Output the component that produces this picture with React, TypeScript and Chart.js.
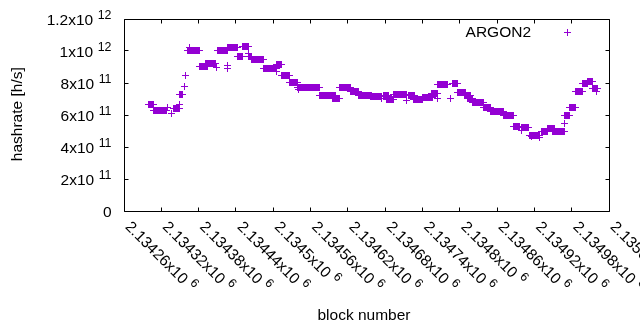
import { useEffect, useRef } from 'react';
import { Chart, registerables } from 'chart.js';

Chart.register(...registerables);

// Runs of blocks sharing the same hashrate estimate (values in 1e9 h/s)
const runFirstBlock = [
  2134298, 2134306, 2134329, 2134336, 2134338, 2134349, 2134348, 2134356, 2134358, 2134362,
  2134365, 2134380, 2134391, 2134408, 2134409, 2134426, 2134426, 2134426, 2134441, 2134449,
  2134459, 2134460, 2134465, 2134483, 2134504, 2134505, 2134512, 2134525, 2134540, 2134539,
  2134574, 2134595, 2134605, 2134623, 2134637, 2134656, 2134674, 2134676, 2134682, 2134693,
  2134713, 2134716, 2134724, 2134740, 2134753, 2134763, 2134763, 2134784, 2134787, 2134796,
  2134806, 2134812, 2134820, 2134837, 2134848, 2134869, 2134886, 2134898, 2134899, 2134912,
  2134914, 2134928, 2134930, 2134941, 2134949, 2134967, 2134968, 2134975, 2134986, 2134997,
  2135004, 2135012, 2135019,
];
const runLastBlock = [
  2134307, 2134328, 2134329, 2134336, 2134348, 2134349, 2134354, 2134356, 2134358, 2134380,
  2134365, 2134393, 2134407, 2134408, 2134425, 2134426, 2134426, 2134441, 2134449, 2134459,
  2134459, 2134465, 2134483, 2134504, 2134512, 2134505, 2134525, 2134539, 2134540, 2134574,
  2134599, 2134605, 2134624, 2134637, 2134658, 2134673, 2134674, 2134684, 2134692, 2134714,
  2134713, 2134726, 2134740, 2134755, 2134763, 2134763, 2134779, 2134784, 2134796, 2134808,
  2134817, 2134820, 2134837, 2134849, 2134869, 2134886, 2134896, 2134898, 2134909, 2134928,
  2134914, 2134928, 2134941, 2134951, 2134968, 2134967, 2134976, 2134986, 2134997, 2135005,
  2135013, 2135020, 2135019,
];
const runHashrateGH = [
  669, 631, 650, 612, 644, 669, 734, 781, 848, 1009,
  1025, 906, 928, 900, 1009, 912, 892, 1022, 966, 1031,
  986, 969, 947, 894, 916, 872, 853, 806, 762, 772,
  725, 709, 772, 753, 728, 719, 709, 727, 703, 734,
  694, 725, 703, 712, 737, 706, 791, 709, 797, 741,
  725, 706, 684, 653, 628, 597, 534, 506, 522, 478,
  469, 462, 500, 519, 500, 547, 597, 653, 753, 797,
  812, 766, 753,
];

const xMin = 2134260;
const xMax = 2135040;
const xTickBlocks = [
  2134260, 2134320, 2134380, 2134440, 2134500, 2134560, 2134620,
  2134680, 2134740, 2134800, 2134860, 2134920, 2134980, 2135040,
];
const xTickText = [
  '2.13426x10', '2.13432x10', '2.13438x10', '2.13444x10', '2.1345x10', '2.13456x10', '2.13462x10',
  '2.13468x10', '2.13474x10', '2.1348x10', '2.13486x10', '2.13492x10', '2.13498x10', '2.13504x10',
];
const xTickExp = '6';
const yTickValues = [0, 2e11, 4e11, 6e11, 8e11, 1e12, 1.2e12];
const yTickText = ['0', '2x10', '4x10', '6x10', '8x10', '1x10', '1.2x10'];
const yTickExp = ['', '11', '11', '11', '11', '12', '12'];

const seriesLabel = 'ARGON2';
const xTitle = 'block number';
const yTitle = 'hashrate [h/s]';

const COLOR = '#9400d3';
const FAMILY = '"Liberation Sans", Arial, sans-serif';
const FS = 15.5;
const SUP = 12.4;
const SUP_RAISE = 6.5;
const SUP_GAP = 4.5;
const TICK = 4;

function crisp(v: number) {
  return Math.floor(v) + 0.5;
}

function makeCross(): HTMLCanvasElement {
  const c = document.createElement('canvas');
  c.width = 7;
  c.height = 7;
  const g = c.getContext('2d')!;
  g.fillStyle = COLOR;
  g.fillRect(3, 0, 1, 7);
  g.fillRect(0, 3, 7, 1);
  return c;
}

const gnuplotDecor = {
  id: 'gnuplotDecor',
  beforeDatasetsDraw(chart: any) {
    const { ctx, chartArea: a, scales } = chart;
    const L = crisp(a.left), R = crisp(a.right - 0.5), T = crisp(a.top), B = crisp(a.bottom - 0.5);
    ctx.save();
    ctx.strokeStyle = '#000';
    ctx.lineWidth = 1;
    ctx.beginPath();
    ctx.rect(L, T, R - L, B - T);
    for (const b of xTickBlocks) {
      const x = crisp(scales.x.getPixelForValue(b) - 0.5);
      ctx.moveTo(x, B); ctx.lineTo(x, B - TICK);
      ctx.moveTo(x, T); ctx.lineTo(x, T + TICK);
    }
    for (const v of yTickValues) {
      const y = crisp(scales.y.getPixelForValue(v) - 0.5);
      ctx.moveTo(L, y); ctx.lineTo(L + TICK, y);
      ctx.moveTo(R, y); ctx.lineTo(R - TICK, y);
    }
    ctx.stroke();
    ctx.restore();
    ctx.imageSmoothingEnabled = false;
  },
  afterDatasetsDraw(chart: any) {
    chart.ctx.imageSmoothingEnabled = true;
  },
  afterDraw(chart: any) {
    const { ctx, scales } = chart;
    ctx.save();
    ctx.fillStyle = '#000';
    ctx.textBaseline = 'alphabetic';
    // y tick labels (right aligned)
    yTickValues.forEach((v, i) => {
      const y = scales.y.getPixelForValue(v);
      const right = 111.5;
      ctx.font = `${FS}px ${FAMILY}`;
      const wMain = ctx.measureText(yTickText[i]).width;
      let wSup = 0;
      if (yTickExp[i]) {
        ctx.font = `${SUP}px ${FAMILY}`;
        wSup = ctx.measureText(yTickExp[i]).width + SUP_GAP;
      }
      const x0 = right - wMain - wSup;
      ctx.font = `${FS}px ${FAMILY}`;
      ctx.textAlign = 'left';
      ctx.fillText(yTickText[i], x0, y + 5.6);
      if (yTickExp[i]) {
        ctx.font = `${SUP}px ${FAMILY}`;
        ctx.fillText(yTickExp[i], x0 + wMain + SUP_GAP, y + 5.6 - SUP_RAISE);
      }
    });
    // x tick labels rotated -45 (down-right)
    xTickBlocks.forEach((b, i) => {
      const x = scales.x.getPixelForValue(b);
      ctx.save();
      ctx.translate(x, 227.5);
      ctx.rotate(Math.PI / 4);
      ctx.textAlign = 'left';
      ctx.font = `${FS}px ${FAMILY}`;
      ctx.fillText(xTickText[i], 0, 0);
      const w = ctx.measureText(xTickText[i]).width;
      ctx.font = `${SUP}px ${FAMILY}`;
      ctx.fillText(xTickExp, w + SUP_GAP, -SUP_RAISE);
      ctx.restore();
    });
    // axis titles
    ctx.font = `${FS}px ${FAMILY}`;
    ctx.textAlign = 'center';
    ctx.fillText(xTitle, 364, 320);
    ctx.save();
    ctx.translate(21.7, 114.2);
    ctx.rotate(-Math.PI / 2);
    ctx.fillText(yTitle, 0, 0);
    ctx.restore();
    // legend
    ctx.textAlign = 'right';
    ctx.fillText(seriesLabel, 531, 37.3);
    ctx.fillStyle = COLOR;
    ctx.fillRect(567, 29, 1, 7);
    ctx.fillRect(564, 32, 7, 1);
    ctx.restore();
  },
};

export default function App() {
  const ref = useRef<HTMLCanvasElement | null>(null);
  useEffect(() => {
    document.body.style.margin = '0';
    const canvas = ref.current;
    if (!canvas) return;
    const points: { x: number; y: number }[] = [];
    for (let r = 0; r < runFirstBlock.length; r++) {
      for (let b = runFirstBlock[r]; b <= runLastBlock[r]; b++) {
        points.push({ x: b, y: runHashrateGH[r] * 1e9 });
      }
    }
    const cross = makeCross();
    const chart = new Chart(canvas, {
      type: 'scatter',
      data: {
        datasets: [
          {
            label: seriesLabel,
            data: points,
            pointStyle: cross as any,
            pointRadius: 3.5,
            pointHoverRadius: 3.5,
            borderWidth: 1,
            borderColor: COLOR,
            backgroundColor: COLOR,
          },
        ],
      },
      options: {
        animation: false,
        responsive: false,
        events: [],
        layout: { padding: { left: 124.5, right: 30.5, top: 19.5, bottom: 118.5 } },
        scales: {
          x: { type: 'linear', min: xMin, max: xMax, display: false },
          y: { type: 'linear', min: 0, max: 1.2e12, display: false },
        },
        plugins: { legend: { display: false }, tooltip: { enabled: false } },
      },
      plugins: [gnuplotDecor],
    });
    return () => chart.destroy();
  }, []);
  return <canvas ref={ref} width={640} height={330} style={{ display: 'block' }} />;
}
